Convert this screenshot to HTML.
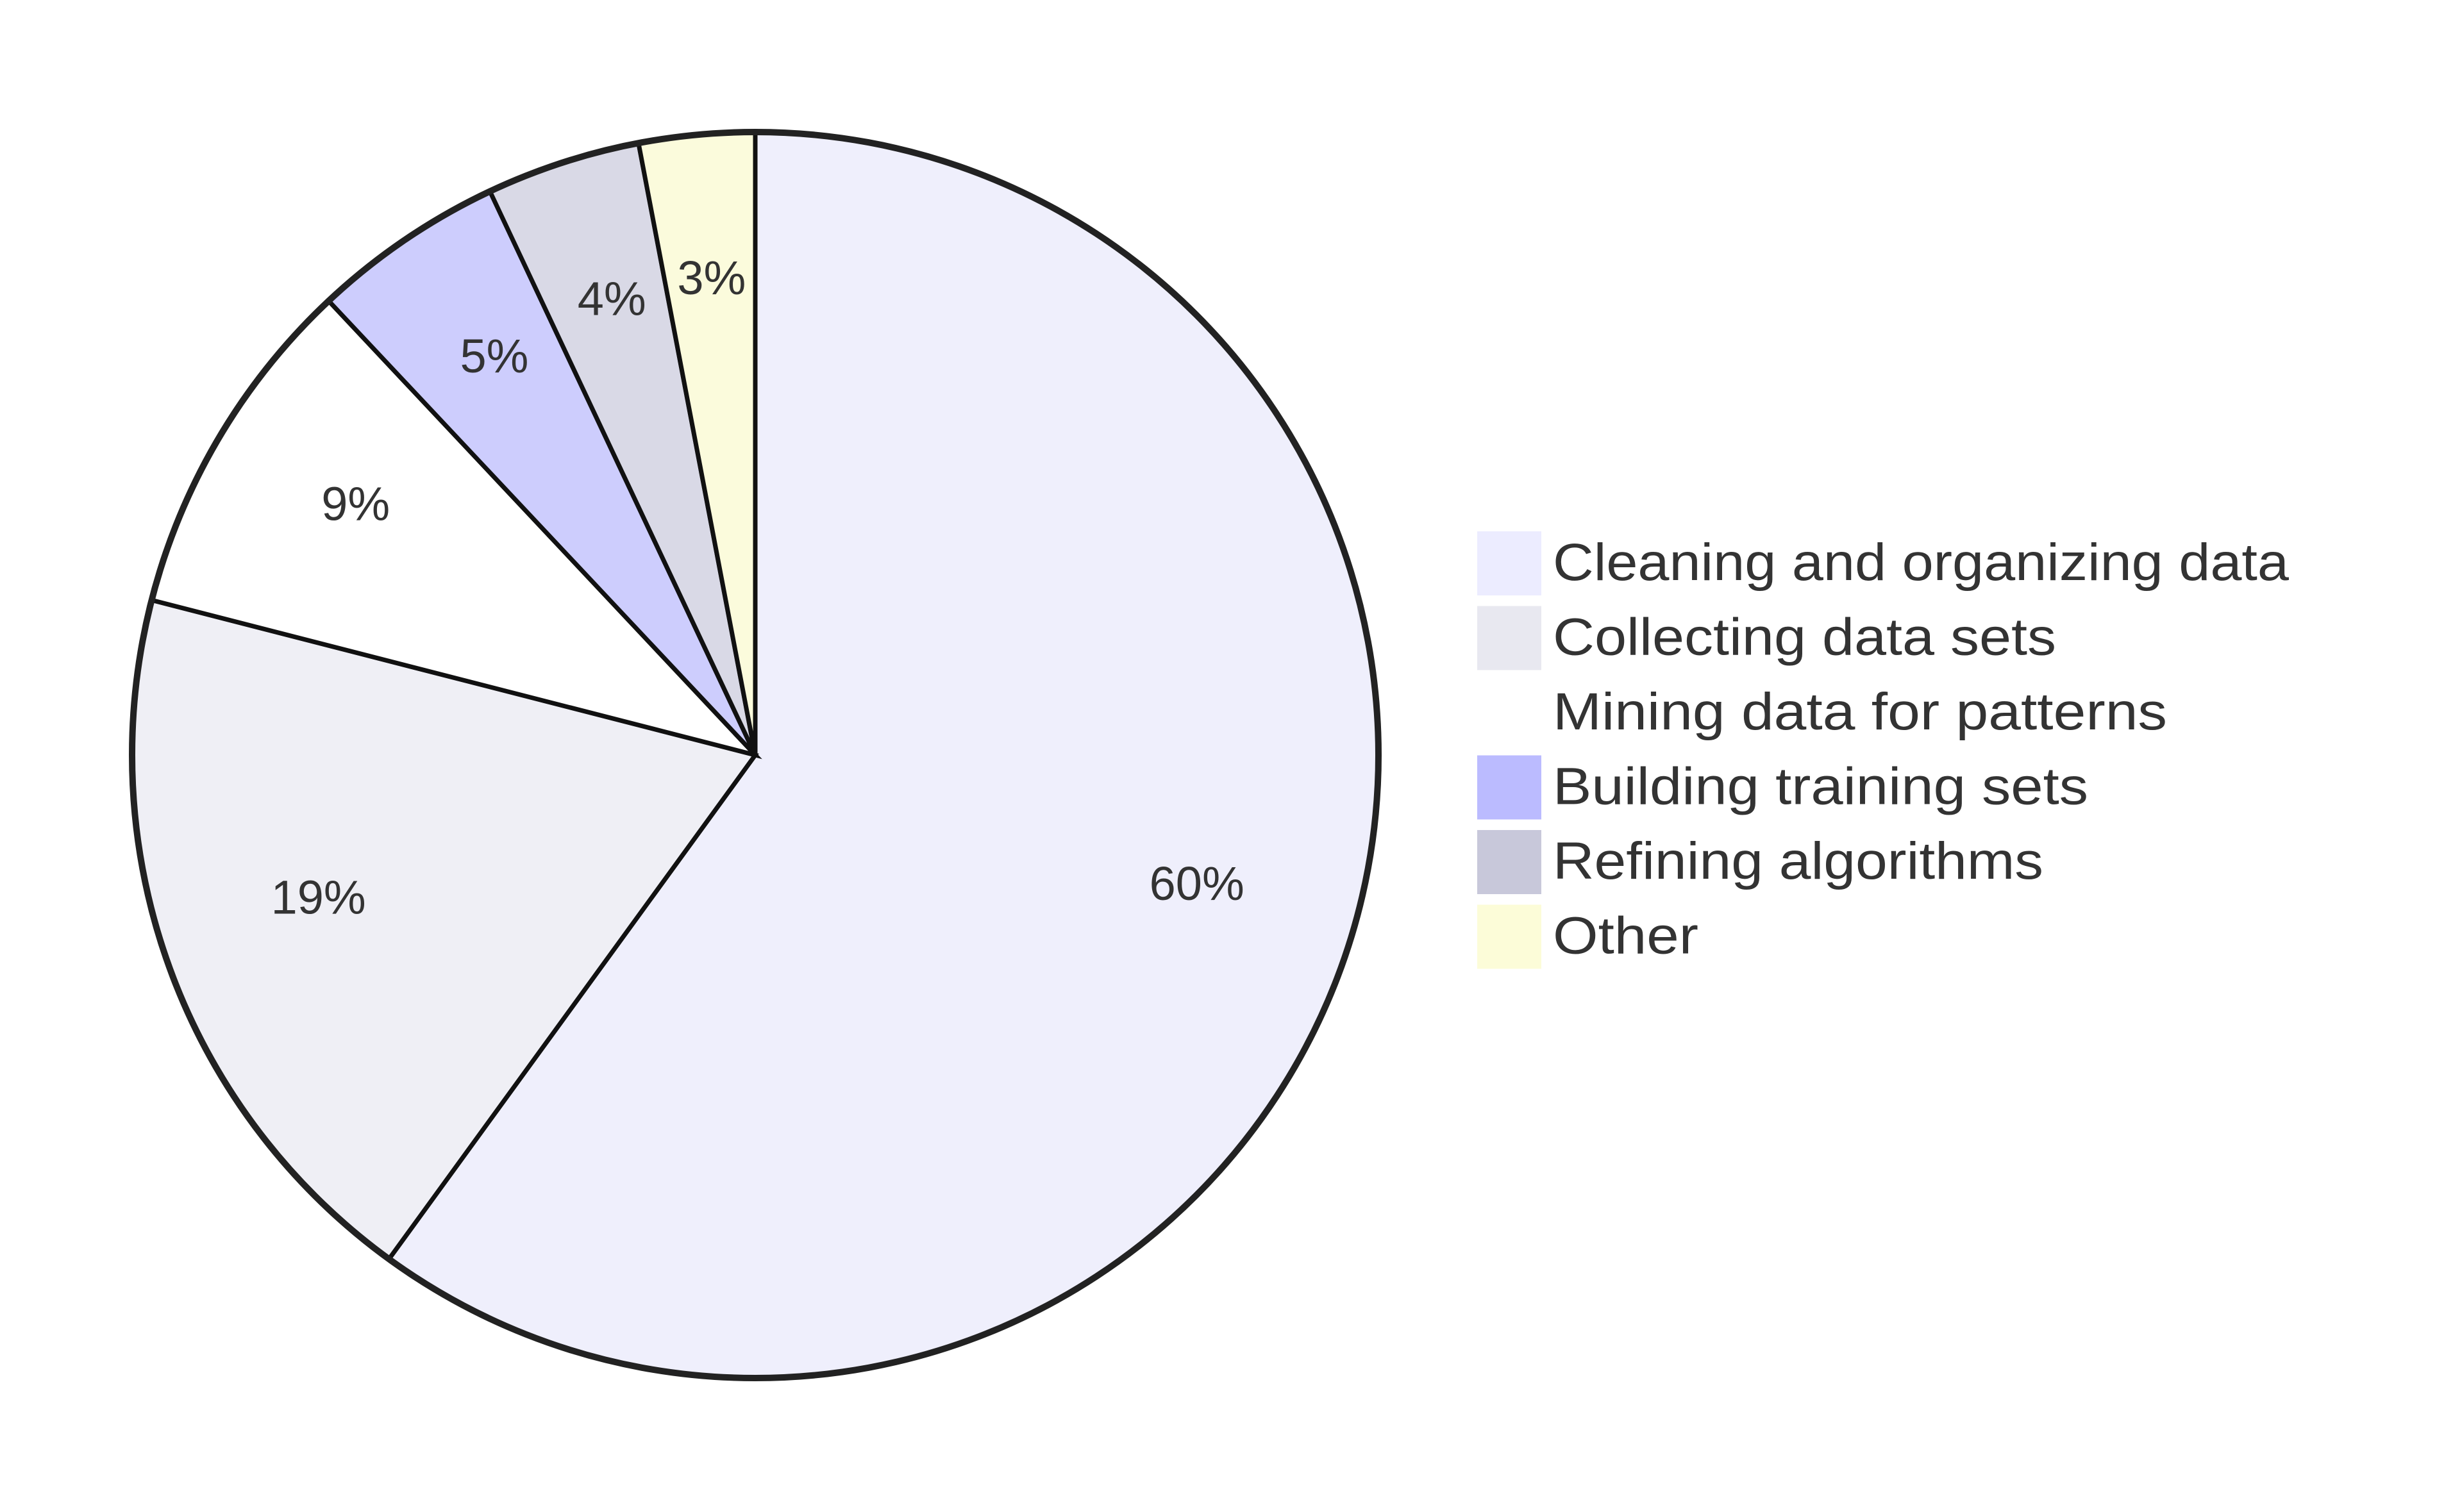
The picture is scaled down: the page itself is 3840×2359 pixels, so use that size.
<!DOCTYPE html>
<html><head><meta charset="utf-8"><style>
html,body{margin:0;padding:0;background:#fff;}
svg{display:block;}
text{font-family:"Liberation Sans",sans-serif;fill:#333;}
</style></head><body>
<svg id="chart" width="3840" height="2359" viewBox="0 0 3840 2359" xmlns="http://www.w3.org/2000/svg">
<g id="slices"></g>
<circle cx="1178" cy="1178" r="972" fill="none" stroke="#222" stroke-width="10"/>
<g id="labels"></g>
<g id="legend"></g>
</svg>
<script>
const categories = ["Cleaning and organizing data","Collecting data sets","Mining data for patterns","Building training sets","Refining algorithms","Other"];
const values = [60,19,9,5,4,3];
const sliceColors = ["#efeffc","#efeff5","#ffffff","#cdcdfd","#d9d9e6","#fbfbdc"];
const legendColors = ["#ececff","#e8e8f0","#ffffff","#bbbbff","#c8c8da","#fcfcd8"];
const NS="http://www.w3.org/2000/svg";
const cx=1178, cy=1178, R=972;
const total=values.reduce((a,b)=>a+b,0);
const gS=document.getElementById('slices'), gL=document.getElementById('labels'), gG=document.getElementById('legend');
function pt(a,r){return [cx+r*Math.sin(a), cy-r*Math.cos(a)];}
let a0=0;
values.forEach((v,i)=>{
  const a1=a0+v/total*2*Math.PI;
  const p0=pt(a0,R), p1=pt(a1,R);
  const large=(a1-a0)>Math.PI?1:0;
  const path=document.createElementNS(NS,'path');
  path.setAttribute('d',`M${cx},${cy} L${p0[0]},${p0[1]} A${R},${R} 0 ${large} 1 ${p1[0]},${p1[1]} Z`);
  path.setAttribute('fill',sliceColors[i]);
  path.setAttribute('stroke','#111');
  path.setAttribute('stroke-width','7');
  
  
  gS.appendChild(path);
  const am=(a0+a1)/2, lp=pt(am,R*0.745);
  const t=document.createElementNS(NS,'text');
  t.setAttribute('x',lp[0]); t.setAttribute('y',lp[1]+2);
  t.setAttribute('text-anchor','middle'); t.setAttribute('font-size','74');
  t.textContent=Math.round(v/total*100)+'%';
  
  
  gL.appendChild(t);
  a0=a1;
});
categories.forEach((c,i)=>{
  const y=829+i*116.5;
  const r=document.createElementNS(NS,'rect');
  r.setAttribute('x',2304); r.setAttribute('y',y); r.setAttribute('width',100); r.setAttribute('height',100);
  r.setAttribute('fill',legendColors[i]);
  
  
  gG.appendChild(r);
  const t=document.createElementNS(NS,'text');
  t.setAttribute('x',2422); t.setAttribute('y',y+76);
  t.setAttribute('font-size','82');
  t.textContent=c;
  
  
  gG.appendChild(t);
  const targets=[1148,785,958,835,765,227];
  t.setAttribute('textLength',targets[i]);
  t.setAttribute('lengthAdjust','spacingAndGlyphs');
});
</script>
</body></html>
